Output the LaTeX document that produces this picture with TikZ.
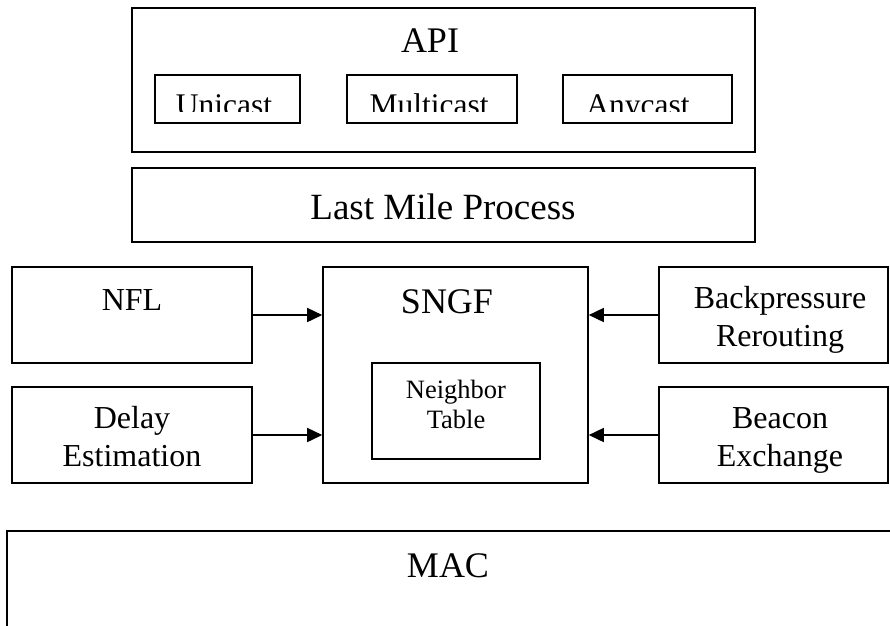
\documentclass[tikz,border=0pt]{standalone}
\usepackage{fontspec}
\setmainfont{Liberation Serif}
\usetikzlibrary{arrows.meta}

\tikzset{
  box/.style={draw=black, line width=1.6pt, rectangle, inner sep=0pt, fill=white},
  big/.style={font=\fontsize{36}{41}\selectfont, inner sep=0pt, anchor=base},
  mid/.style={font=\fontsize{32}{38}\selectfont, inner sep=0pt, anchor=base, align=center},
  small/.style={font=\fontsize{31.5}{36}\selectfont, inner sep=0pt, anchor=base},
  tiny/.style={font=\fontsize{26.5}{30}\selectfont, inner sep=0pt, anchor=base, align=center},
  arr/.style={line width=1.6pt, -{Triangle[length=15pt,width=14pt]}}
}

\begin{document}
\begin{tikzpicture}[x=1pt,y=-1pt]
\useasboundingbox[fill=white] (0,0) rectangle (890,625);

% API layer with its three delivery modes
\node[box, minimum width=623pt, minimum height=144pt] (api) at (443.5,80) {};
\node[big] (apit) at (430,52) {API};
\node[box, minimum width=145pt, minimum height=48pt] (uni) at (227.5,99) {};
\node[box, minimum width=170pt, minimum height=48pt] (multi) at (432,99) {};
\node[box, minimum width=169pt, minimum height=48pt] (any) at (647.5,99) {};
\begin{scope}
  \clip (150,76) rectangle (740,111.5);
  \node[small] (unit) at (224,115) {Unicast};
  \node[small] (multit) at (429,115) {Multicast};
  \node[small] (anyt) at (638,115) {Anycast};
\end{scope}

% last mile layer
\node[box, minimum width=623pt, minimum height=74pt] (last) at (443.5,205) {};
\node[big, font=\fontsize{37}{42}\selectfont] (lastt) at (443,219) {Last Mile Process};

% side modules
\node[box, minimum width=240pt, minimum height=96pt] (nfl) at (132,315) {};
\node[mid] (nflt) at (132,310) {NFL};
\node[box, minimum width=240pt, minimum height=96pt] (delay) at (132,435) {};
\node[mid] (delayt) at (132,428) {Delay};
\node[mid] (delayt2) at (132,466) {Estimation};

\node[box, minimum width=229pt, minimum height=96pt] (back) at (773.5,315) {};
\node[mid] (backt) at (780,308) {Backpressure};
\node[mid] (backt2) at (780,346) {Rerouting};
\node[box, minimum width=229pt, minimum height=96pt] (beacon) at (773.5,435) {};
\node[mid] (beacont) at (780,428) {Beacon};
\node[mid] (beacont2) at (780,466) {Exchange};

% SNGF core with neighbor table
\node[box, minimum width=265pt, minimum height=216pt] (sngf) at (455.5,375) {};
\node[big] (sngft) at (447,313) {SNGF};
\node[box, minimum width=168pt, minimum height=96pt] (nt) at (456,411) {};
\node[tiny] (ntt) at (456,398) {Neighbor};
\node[tiny] (ntt2) at (456,428) {Table};

% inputs into SNGF
\draw[arr] (nfl.east) -- (nfl.east -| sngf.west);
\draw[arr] (delay.east) -- (delay.east -| sngf.west);
\draw[arr] (back.west) -- (back.west -| sngf.east);
\draw[arr] (beacon.west) -- (beacon.west -| sngf.east);

% MAC layer, running past the lower and right edges
\coordinate (macbl) at (7,640);
\coordinate (mactl) at (7,531);
\coordinate (mactr) at (900,531);
\draw[line width=1.6pt] (macbl) -- (mactl) -- (mactr);
\node[big] (mact) at (448,577) {MAC};
\end{tikzpicture}
\end{document}
